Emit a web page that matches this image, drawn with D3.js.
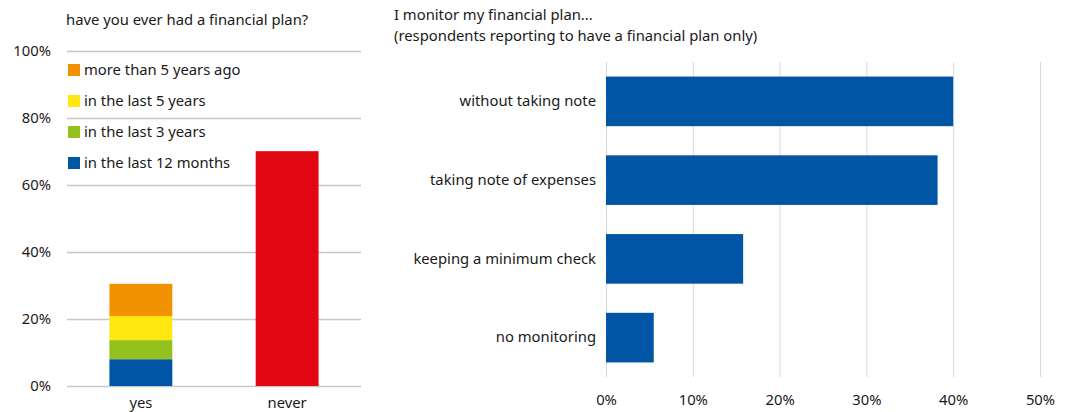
<!DOCTYPE html>
<html><head><meta charset="utf-8">
<script src="https://cdn.jsdelivr.net/npm/d3@7"></script>
<style>body{margin:0;background:#fff}svg{display:block}text{font-family:"Noto Sans",sans-serif;fill:#1a1a1a}</style>
</head><body><svg id="c" width="1069" height="412"></svg>
<script>
const leftCategories = ["yes", "never"];
const stackSeries = ["in the last 12 months", "in the last 3 years", "in the last 5 years", "more than 5 years ago"];
const stackColors = ["#0055a4", "#95c11f", "#ffe812", "#f39200"];
const yesValues = [8.0, 5.7, 7.2, 9.6];
const neverValue = [70.1];
const neverColor = "#e30613";
const leftTicks = [0, 20, 40, 60, 80, 100];
const leftTitle = "have you ever had a financial plan?";

const rightCategories = ["without taking note", "taking note of expenses", "keeping a minimum check", "no monitoring"];
const rightValues = [40.0, 38.2, 15.8, 5.5];
const rightTicks = [0, 10, 20, 30, 40, 50];
const rightTitle = ["I monitor my financial plan...", "(respondents reporting to have a financial plan only)"];

const FS = 14.8;
const svg = d3.select("#c");

// LEFT CHART
const L = {x0: 67, x1: 361, y0: 51, y1: 386};
const yL = d3.scaleLinear().domain([0, 100]).range([L.y1, L.y0]);
const xL = d3.scaleBand().domain(leftCategories).range([L.x0, L.x1]).paddingInner(0.57).paddingOuter(0.29);
const gL = svg.append("g");
gL.append("text").attr("x", 66).attr("y", 25).attr("font-size", FS).text(leftTitle);
const axL = gL.append("g").attr("transform", `translate(${L.x0},0)`)
  .call(d3.axisLeft(yL).tickValues(leftTicks).tickSize(-(L.x1 - L.x0)).tickFormat(d => d + "%").tickPadding(16));
axL.select(".domain").remove();
axL.selectAll(".tick line").attr("stroke", "#c8c8c8").attr("stroke-width", 1.5);
axL.selectAll(".tick text").attr("font-size", FS).attr("text-anchor", "end").style("font-family", '"Noto Sans",sans-serif').attr("fill", "#1a1a1a");

let acc = 0;
const stackData = yesValues.map((v, i) => { const d = {v, i, y0: acc, y1: acc + v}; acc += v; return d; });
gL.selectAll("rect.stk").data(stackData).join("rect").attr("class", "stk")
  .attr("x", xL("yes")).attr("width", xL.bandwidth())
  .attr("y", d => yL(d.y1)).attr("height", d => yL(d.y0) - yL(d.y1))
  .attr("fill", d => stackColors[d.i]);
gL.selectAll("rect.nev").data(neverValue).join("rect").attr("class", "nev")
  .attr("x", xL("never")).attr("width", xL.bandwidth())
  .attr("y", d => yL(d)).attr("height", d => yL(0) - yL(d)).attr("fill", neverColor);

const axLB = gL.append("g").attr("transform", `translate(0,${L.y1})`).call(d3.axisBottom(xL).tickSize(0).tickPadding(11));
axLB.select(".domain").remove();
axLB.selectAll("text").attr("font-size", FS).style("font-family", '"Noto Sans",sans-serif').attr("fill", "#1a1a1a");

// legend
const legOrder = [3, 2, 1, 0];
const leg = gL.selectAll("g.leg").data(legOrder).join("g").attr("class", "leg")
  .attr("transform", (d, i) => `translate(68,${70 + i * 31})`);
leg.append("rect").attr("x", 0).attr("y", -6).attr("width", 12).attr("height", 12).attr("fill", d => stackColors[d]);
leg.append("text").attr("x", 16).attr("y", 0).attr("dy", "0.35em").attr("font-size", FS).text(d => stackSeries[d]);

// RIGHT CHART
const R = {x0: 606, x1: 1040, y0: 62, y1: 377};
const xR = d3.scaleLinear().domain([0, 50]).range([R.x0, R.x1]);
const yR = d3.scaleBand().domain(rightCategories).range([R.y0, R.y1]).paddingInner(0.37).paddingOuter(0.185);
const gR = svg.append("g");
gR.selectAll("text.ttl").data(rightTitle).join("text").attr("class", "ttl")
  .attr("x", 394).attr("y", (d, i) => 20 + i * 21).attr("font-size", FS).text(d => d);
const axR = gR.append("g").attr("transform", `translate(0,${R.y1})`)
  .call(d3.axisBottom(xR).tickValues(rightTicks).tickSize(-(R.y1 - R.y0)).tickFormat(d => d + "%").tickPadding(17));
axR.select(".domain").remove();
axR.selectAll(".tick line").attr("stroke", "#d9d9d9").attr("stroke-width", 1);
axR.selectAll(".tick text").attr("font-size", FS).style("font-family", '"Noto Sans",sans-serif').attr("fill", "#1a1a1a");

gR.selectAll("rect.hb").data(rightValues).join("rect").attr("class", "hb")
  .attr("x", xR(0)).attr("y", (d, i) => yR(rightCategories[i]))
  .attr("width", d => xR(d) - xR(0)).attr("height", yR.bandwidth()).attr("fill", "#0055a4");

const axRL = gR.append("g").attr("transform", `translate(${R.x0},0)`).call(d3.axisLeft(yR).tickSize(0).tickPadding(10));
axRL.select(".domain").remove();
axRL.selectAll("text").attr("font-size", FS).style("font-family", '"Noto Sans",sans-serif').attr("fill", "#1a1a1a");
</script></body></html>
